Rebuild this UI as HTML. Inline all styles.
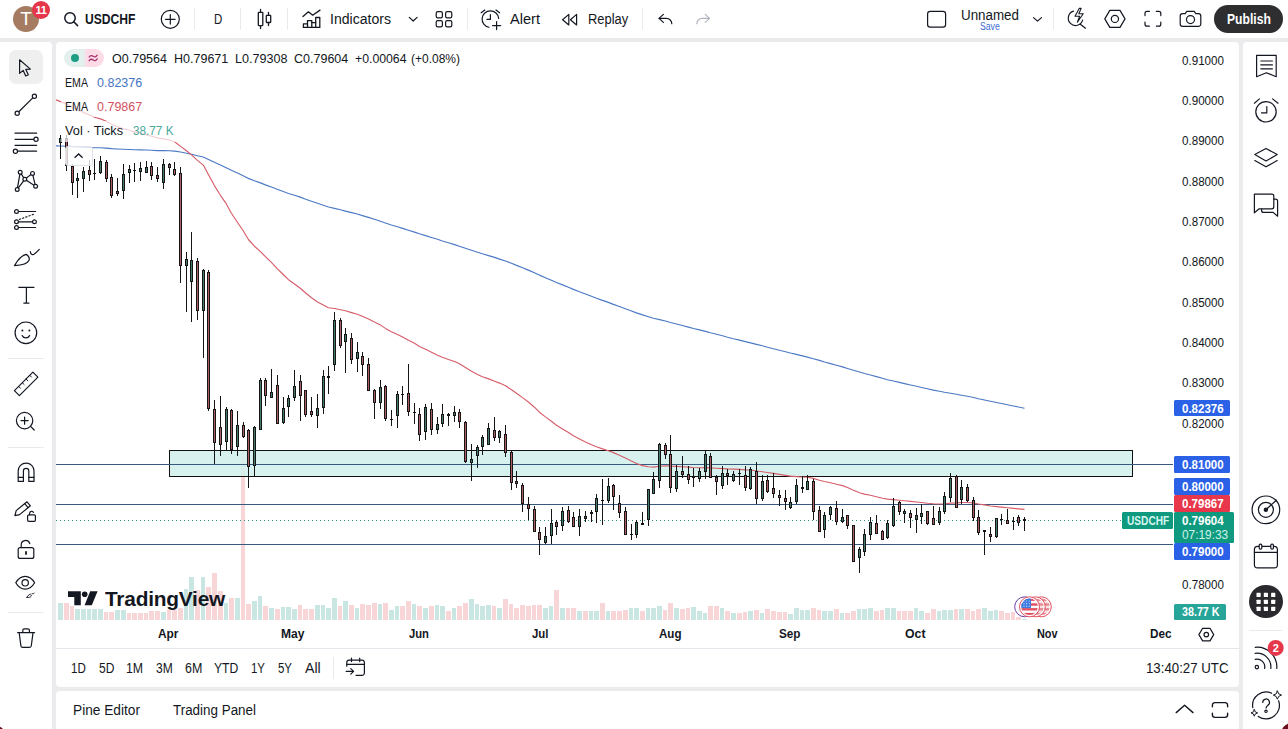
<!DOCTYPE html>
<html><head><meta charset="utf-8"><title>USDCHF</title>
<style>
*{box-sizing:border-box;margin:0;padding:0}
html,body{width:1288px;height:729px;overflow:hidden}
body{background:#ebebed;font-family:"Liberation Sans",sans-serif;color:#131722;position:relative}
.p{position:absolute;background:#fff}
.a{position:absolute}
.t{position:absolute;white-space:nowrap;line-height:1}
#top{left:0;top:0;width:1288px;height:38px}
#left{left:0;top:42px;width:52px;height:687px;border-top-right-radius:4px}
#chart{left:56px;top:42px;width:1183px;height:645px;border-radius:4px}
#bottom{left:56px;top:691px;width:1183px;height:38px;border-radius:4px 4px 0 0}
#right{left:1243px;top:42px;width:45px;height:687px;border-top-left-radius:4px}
svg{position:absolute;left:0;top:0;overflow:visible}
.sep{position:absolute;background:#e9eaee}
.ic{fill:none;stroke:#131722;stroke-width:1.2;stroke-linecap:round;stroke-linejoin:round}
.pl{position:absolute;left:1174px;width:56px;height:16px;color:#fff;font-size:12px;line-height:16px;padding-left:7px;white-space:nowrap}
.ax{position:absolute;left:1181px;font-size:12px;line-height:14px;white-space:nowrap}
.mo{position:absolute;top:626px;font-size:12px;font-weight:bold;line-height:14px;transform:translateX(-50%);white-space:nowrap}
</style></head><body>
<div class="p" id="top"></div>
<div class="p" id="left"></div>
<div class="p" id="chart"></div>
<div class="p" id="bottom"></div>
<div class="p" id="right"></div>

<!-- chart drawing layer (page coordinates) -->
<svg width="1288" height="729" viewBox="0 0 1288 729" shape-rendering="crispEdges">
<rect x="58" y="602.6" width="5" height="17.4" fill="#c9e6e2"/>
<rect x="64" y="602.6" width="5" height="17.4" fill="#f8d5d6"/>
<rect x="70" y="605.6" width="4" height="14.4" fill="#f8d5d6"/>
<rect x="75" y="608.8" width="5" height="11.2" fill="#c9e6e2"/>
<rect x="81" y="608.8" width="5" height="11.2" fill="#c9e6e2"/>
<rect x="87" y="609.0" width="4" height="11.0" fill="#c9e6e2"/>
<rect x="92" y="609.0" width="5" height="11.0" fill="#c9e6e2"/>
<rect x="98" y="609.0" width="5" height="11.0" fill="#c9e6e2"/>
<rect x="104" y="612.0" width="4" height="8.0" fill="#f8d5d6"/>
<rect x="109" y="612.0" width="5" height="8.0" fill="#f8d5d6"/>
<rect x="115" y="610.0" width="5" height="10.0" fill="#c9e6e2"/>
<rect x="121" y="610.0" width="5" height="10.0" fill="#c9e6e2"/>
<rect x="127" y="612.5" width="4" height="7.5" fill="#f8d5d6"/>
<rect x="132" y="612.5" width="5" height="7.5" fill="#f8d5d6"/>
<rect x="138" y="612.5" width="5" height="7.5" fill="#f8d5d6"/>
<rect x="144" y="612.5" width="4" height="7.5" fill="#f8d5d6"/>
<rect x="149" y="611.3" width="5" height="8.7" fill="#f8d5d6"/>
<rect x="155" y="611.3" width="5" height="8.7" fill="#f8d5d6"/>
<rect x="161" y="611.8" width="5" height="8.2" fill="#c9e6e2"/>
<rect x="167" y="610.0" width="4" height="10.0" fill="#f8d5d6"/>
<rect x="172" y="610.0" width="5" height="10.0" fill="#f8d5d6"/>
<rect x="178" y="608.0" width="5" height="12.0" fill="#f8d5d6"/>
<rect x="184" y="589.0" width="4" height="31.0" fill="#c9e6e2"/>
<rect x="189" y="577.3" width="5" height="42.7" fill="#c9e6e2"/>
<rect x="195" y="590.0" width="5" height="30.0" fill="#f8d5d6"/>
<rect x="201" y="577.3" width="4" height="42.7" fill="#c9e6e2"/>
<rect x="206" y="586.5" width="5" height="33.5" fill="#f8d5d6"/>
<rect x="212" y="573.3" width="5" height="46.7" fill="#f8d5d6"/>
<rect x="218" y="591.4" width="5" height="28.6" fill="#f8d5d6"/>
<rect x="224" y="602.6" width="4" height="17.4" fill="#c9e6e2"/>
<rect x="229" y="597.6" width="5" height="22.4" fill="#f8d5d6"/>
<rect x="235" y="598.1" width="5" height="21.9" fill="#c9e6e2"/>
<rect x="241" y="452.0" width="4" height="168.0" fill="#f8d5d6"/>
<rect x="246" y="604.0" width="5" height="16.0" fill="#f8d5d6"/>
<rect x="252" y="601.4" width="5" height="18.6" fill="#c9e6e2"/>
<rect x="258" y="596.4" width="4" height="23.6" fill="#c9e6e2"/>
<rect x="263" y="606.3" width="5" height="13.7" fill="#f8d5d6"/>
<rect x="269" y="607.6" width="5" height="12.4" fill="#c9e6e2"/>
<rect x="275" y="609.0" width="5" height="11.0" fill="#f8d5d6"/>
<rect x="281" y="607.0" width="4" height="13.0" fill="#c9e6e2"/>
<rect x="286" y="607.0" width="5" height="13.0" fill="#c9e6e2"/>
<rect x="292" y="609.0" width="5" height="11.0" fill="#c9e6e2"/>
<rect x="298" y="604.6" width="4" height="15.4" fill="#f8d5d6"/>
<rect x="303" y="609.3" width="5" height="10.7" fill="#f8d5d6"/>
<rect x="309" y="609.3" width="5" height="10.7" fill="#f8d5d6"/>
<rect x="315" y="605.0" width="5" height="15.0" fill="#c9e6e2"/>
<rect x="321" y="605.0" width="4" height="15.0" fill="#c9e6e2"/>
<rect x="326" y="608.3" width="5" height="11.7" fill="#c9e6e2"/>
<rect x="332" y="597.6" width="5" height="22.4" fill="#c9e6e2"/>
<rect x="338" y="605.6" width="4" height="14.4" fill="#f8d5d6"/>
<rect x="343" y="601.4" width="5" height="18.6" fill="#c9e6e2"/>
<rect x="349" y="604.6" width="5" height="15.4" fill="#f8d5d6"/>
<rect x="355" y="608.3" width="4" height="11.7" fill="#c9e6e2"/>
<rect x="360" y="604.0" width="5" height="16.0" fill="#f8d5d6"/>
<rect x="366" y="605.0" width="5" height="15.0" fill="#f8d5d6"/>
<rect x="372" y="603.0" width="5" height="17.0" fill="#f8d5d6"/>
<rect x="378" y="604.0" width="4" height="16.0" fill="#c9e6e2"/>
<rect x="383" y="602.6" width="5" height="17.4" fill="#f8d5d6"/>
<rect x="389" y="609.6" width="5" height="10.4" fill="#c9e6e2"/>
<rect x="395" y="605.6" width="4" height="14.4" fill="#c9e6e2"/>
<rect x="400" y="605.6" width="5" height="14.4" fill="#f8d5d6"/>
<rect x="406" y="601.4" width="5" height="18.6" fill="#f8d5d6"/>
<rect x="412" y="604.0" width="4" height="16.0" fill="#c9e6e2"/>
<rect x="417" y="606.3" width="5" height="13.7" fill="#f8d5d6"/>
<rect x="423" y="607.6" width="5" height="12.4" fill="#c9e6e2"/>
<rect x="429" y="606.3" width="5" height="13.7" fill="#f8d5d6"/>
<rect x="435" y="604.6" width="4" height="15.4" fill="#c9e6e2"/>
<rect x="440" y="606.3" width="5" height="13.7" fill="#c9e6e2"/>
<rect x="446" y="611.3" width="5" height="8.7" fill="#f8d5d6"/>
<rect x="452" y="607.6" width="4" height="12.4" fill="#c9e6e2"/>
<rect x="457" y="606.3" width="5" height="13.7" fill="#f8d5d6"/>
<rect x="463" y="602.6" width="5" height="17.4" fill="#f8d5d6"/>
<rect x="469" y="599.4" width="5" height="20.6" fill="#c9e6e2"/>
<rect x="475" y="604.0" width="4" height="16.0" fill="#c9e6e2"/>
<rect x="480" y="605.6" width="5" height="14.4" fill="#c9e6e2"/>
<rect x="486" y="604.6" width="5" height="15.4" fill="#c9e6e2"/>
<rect x="492" y="606.3" width="4" height="13.7" fill="#f8d5d6"/>
<rect x="497" y="608.3" width="5" height="11.7" fill="#c9e6e2"/>
<rect x="503" y="599.4" width="5" height="20.6" fill="#f8d5d6"/>
<rect x="509" y="604.0" width="4" height="16.0" fill="#f8d5d6"/>
<rect x="514" y="608.0" width="5" height="12.0" fill="#f8d5d6"/>
<rect x="520" y="604.6" width="5" height="15.4" fill="#f8d5d6"/>
<rect x="526" y="605.6" width="5" height="14.4" fill="#f8d5d6"/>
<rect x="532" y="604.6" width="4" height="15.4" fill="#f8d5d6"/>
<rect x="537" y="604.6" width="5" height="15.4" fill="#f8d5d6"/>
<rect x="543" y="607.6" width="5" height="12.4" fill="#c9e6e2"/>
<rect x="549" y="605.6" width="4" height="14.4" fill="#c9e6e2"/>
<rect x="554" y="590.2" width="5" height="29.8" fill="#f8d5d6"/>
<rect x="560" y="608.3" width="5" height="11.7" fill="#c9e6e2"/>
<rect x="566" y="608.3" width="4" height="11.7" fill="#f8d5d6"/>
<rect x="571" y="608.3" width="5" height="11.7" fill="#f8d5d6"/>
<rect x="577" y="611.3" width="5" height="8.7" fill="#c9e6e2"/>
<rect x="583" y="611.3" width="5" height="8.7" fill="#f8d5d6"/>
<rect x="589" y="611.3" width="4" height="8.7" fill="#c9e6e2"/>
<rect x="594" y="610.6" width="5" height="9.4" fill="#c9e6e2"/>
<rect x="600" y="603.4" width="5" height="16.6" fill="#f8d5d6"/>
<rect x="606" y="610.6" width="4" height="9.4" fill="#c9e6e2"/>
<rect x="611" y="611.3" width="5" height="8.7" fill="#f8d5d6"/>
<rect x="617" y="611.3" width="5" height="8.7" fill="#f8d5d6"/>
<rect x="623" y="610.0" width="5" height="10.0" fill="#f8d5d6"/>
<rect x="629" y="607.6" width="4" height="12.4" fill="#c9e6e2"/>
<rect x="634" y="608.3" width="5" height="11.7" fill="#c9e6e2"/>
<rect x="640" y="610.6" width="5" height="9.4" fill="#f8d5d6"/>
<rect x="646" y="608.0" width="4" height="12.0" fill="#c9e6e2"/>
<rect x="651" y="607.6" width="5" height="12.4" fill="#c9e6e2"/>
<rect x="657" y="605.6" width="5" height="14.4" fill="#c9e6e2"/>
<rect x="663" y="609.6" width="4" height="10.4" fill="#f8d5d6"/>
<rect x="668" y="602.6" width="5" height="17.4" fill="#f8d5d6"/>
<rect x="674" y="608.3" width="5" height="11.7" fill="#c9e6e2"/>
<rect x="680" y="609.3" width="5" height="10.7" fill="#f8d5d6"/>
<rect x="686" y="608.3" width="4" height="11.7" fill="#f8d5d6"/>
<rect x="691" y="607.0" width="5" height="13.0" fill="#c9e6e2"/>
<rect x="697" y="611.3" width="5" height="8.7" fill="#c9e6e2"/>
<rect x="703" y="612.5" width="4" height="7.5" fill="#c9e6e2"/>
<rect x="708" y="606.3" width="5" height="13.7" fill="#f8d5d6"/>
<rect x="714" y="606.3" width="5" height="13.7" fill="#f8d5d6"/>
<rect x="720" y="607.6" width="4" height="12.4" fill="#c9e6e2"/>
<rect x="725" y="611.3" width="5" height="8.7" fill="#f8d5d6"/>
<rect x="731" y="612.5" width="5" height="7.5" fill="#c9e6e2"/>
<rect x="737" y="612.5" width="5" height="7.5" fill="#f8d5d6"/>
<rect x="743" y="611.8" width="4" height="8.2" fill="#f8d5d6"/>
<rect x="748" y="611.3" width="5" height="8.7" fill="#c9e6e2"/>
<rect x="754" y="609.6" width="5" height="10.4" fill="#f8d5d6"/>
<rect x="760" y="612.5" width="4" height="7.5" fill="#c9e6e2"/>
<rect x="765" y="608.8" width="5" height="11.2" fill="#f8d5d6"/>
<rect x="771" y="611.3" width="5" height="8.7" fill="#f8d5d6"/>
<rect x="777" y="611.8" width="5" height="8.2" fill="#f8d5d6"/>
<rect x="783" y="611.8" width="4" height="8.2" fill="#f8d5d6"/>
<rect x="788" y="613.8" width="5" height="6.2" fill="#c9e6e2"/>
<rect x="794" y="607.6" width="5" height="12.4" fill="#c9e6e2"/>
<rect x="800" y="610.0" width="4" height="10.0" fill="#c9e6e2"/>
<rect x="805" y="610.0" width="5" height="10.0" fill="#c9e6e2"/>
<rect x="811" y="608.3" width="5" height="11.7" fill="#f8d5d6"/>
<rect x="817" y="610.0" width="4" height="10.0" fill="#f8d5d6"/>
<rect x="822" y="610.6" width="5" height="9.4" fill="#c9e6e2"/>
<rect x="828" y="610.6" width="5" height="9.4" fill="#c9e6e2"/>
<rect x="834" y="609.3" width="5" height="10.7" fill="#f8d5d6"/>
<rect x="840" y="612.5" width="4" height="7.5" fill="#c9e6e2"/>
<rect x="845" y="613.0" width="5" height="7.0" fill="#f8d5d6"/>
<rect x="851" y="610.8" width="5" height="9.2" fill="#f8d5d6"/>
<rect x="857" y="608.8" width="4" height="11.2" fill="#c9e6e2"/>
<rect x="862" y="608.8" width="5" height="11.2" fill="#c9e6e2"/>
<rect x="868" y="608.3" width="5" height="11.7" fill="#c9e6e2"/>
<rect x="874" y="611.3" width="5" height="8.7" fill="#f8d5d6"/>
<rect x="880" y="609.6" width="4" height="10.4" fill="#f8d5d6"/>
<rect x="885" y="608.3" width="5" height="11.7" fill="#c9e6e2"/>
<rect x="891" y="608.3" width="5" height="11.7" fill="#c9e6e2"/>
<rect x="897" y="610.8" width="4" height="9.2" fill="#f8d5d6"/>
<rect x="902" y="611.3" width="5" height="8.7" fill="#f8d5d6"/>
<rect x="908" y="610.6" width="5" height="9.4" fill="#f8d5d6"/>
<rect x="914" y="607.6" width="4" height="12.4" fill="#c9e6e2"/>
<rect x="919" y="611.3" width="5" height="8.7" fill="#c9e6e2"/>
<rect x="925" y="613.0" width="5" height="7.0" fill="#f8d5d6"/>
<rect x="931" y="608.8" width="5" height="11.2" fill="#f8d5d6"/>
<rect x="937" y="610.6" width="4" height="9.4" fill="#c9e6e2"/>
<rect x="942" y="609.6" width="5" height="10.4" fill="#c9e6e2"/>
<rect x="948" y="610.0" width="5" height="10.0" fill="#c9e6e2"/>
<rect x="954" y="609.3" width="4" height="10.7" fill="#f8d5d6"/>
<rect x="959" y="609.3" width="5" height="10.7" fill="#c9e6e2"/>
<rect x="965" y="609.3" width="5" height="10.7" fill="#f8d5d6"/>
<rect x="971" y="611.3" width="4" height="8.7" fill="#f8d5d6"/>
<rect x="976" y="609.3" width="5" height="10.7" fill="#f8d5d6"/>
<rect x="982" y="607.6" width="5" height="12.4" fill="#c9e6e2"/>
<rect x="988" y="611.4" width="5" height="8.6" fill="#c9e6e2"/>
<rect x="994" y="609.7" width="4" height="10.3" fill="#c9e6e2"/>
<rect x="999" y="610.5" width="5" height="9.5" fill="#f8d5d6"/>
<rect x="1005" y="613.4" width="5" height="6.6" fill="#f8d5d6"/>
<rect x="1011" y="611.8" width="4" height="8.2" fill="#f8d5d6"/>
<rect x="1016" y="617.1" width="5" height="2.9" fill="#f8d5d6"/>
<rect x="1022" y="619.0" width="5" height="1.0" fill="#c9e6e2"/>
<rect x="169.5" y="450.5" width="963" height="26" fill="#d3efec" fill-opacity="0.9" stroke="#111" stroke-width="1"/>
<rect x="56" y="464" width="1117" height="1" fill="#37597f"/>
<rect x="56" y="504" width="1117" height="1" fill="#37597f"/>
<rect x="56" y="544" width="1117" height="1" fill="#37597f"/>
<line x1="56" y1="520.5" x2="1174" y2="520.5" stroke="#2a8f80" stroke-width="1" stroke-dasharray="1 3"/>
<polyline points="56.0,145.9 60.6,146.0 66.6,146.2 72.4,146.6 77.5,146.9 83.5,147.1 89.3,147.4 94.5,147.7 100.5,147.8 106.3,148.1 111.5,148.6 117.5,149.0 123.5,149.3 129.4,149.5 134.5,149.7 140.6,149.9 146.4,150.0 151.5,150.3 157.5,150.6 163.5,150.5 169.4,150.8 174.6,151.1 180.6,152.0 186.5,153.2 191.5,154.3 197.4,155.7 203.3,157.0 208.5,159.5 214.4,162.3 220.4,165.1 226.2,167.7 231.4,170.3 237.4,173.0 243.2,175.7 248.4,178.4 254.4,180.8 260.5,182.9 265.4,184.9 271.4,187.0 277.2,189.3 283.2,191.5 288.5,193.5 294.5,195.3 300.3,197.1 305.7,199.2 311.5,201.3 317.5,203.3 323.3,205.2 328.5,207.0 334.5,208.4 340.4,209.8 345.4,211.1 351.6,212.6 357.3,214.0 362.4,215.6 368.5,217.4 374.4,219.3 380.4,221.2 385.4,223.0 391.4,225.0 397.5,226.8 402.6,228.4 408.5,230.2 414.5,232.1 419.4,233.8 425.5,235.6 431.5,237.5 437.5,239.3 442.4,241.0 448.5,242.8 454.6,244.6 459.4,246.3 465.4,248.3 471.5,250.3 477.5,252.2 482.4,253.8 488.6,255.6 494.6,257.4 499.6,259.1 505.5,261.0 511.5,263.3 516.5,265.4 522.5,267.7 528.4,270.1 534.4,272.7 539.4,275.1 545.4,277.7 551.4,280.2 556.5,282.5 562.5,284.9 568.5,287.3 573.4,289.4 579.5,291.8 585.5,294.0 591.5,296.3 596.4,298.2 602.5,300.4 608.4,302.4 613.4,304.4 619.4,306.5 625.4,308.8 631.4,311.0 636.5,312.9 642.5,314.9 648.5,316.7 653.4,318.2 659.5,319.6 665.4,321.0 670.5,322.5 676.4,324.0 682.4,325.5 688.4,327.1 693.5,328.5 699.4,329.9 705.5,331.4 710.5,332.8 716.4,334.3 722.5,335.8 727.5,337.2 733.4,338.7 739.5,340.1 745.4,341.6 750.5,342.9 756.5,344.4 762.4,345.8 767.5,347.2 773.5,348.7 779.4,350.2 785.5,351.7 790.4,353.0 796.4,354.4 802.4,355.9 807.4,357.1 813.4,358.7 819.4,360.4 824.5,362.0 830.5,363.6 836.5,365.3 842.5,366.9 847.5,368.5 853.5,370.3 859.5,372.0 864.6,373.5 870.4,375.0 876.4,376.6 882.5,378.3 887.4,379.7 893.4,381.0 899.4,382.4 904.5,383.6 910.6,385.0 916.5,386.3 921.5,387.5 927.4,388.8 933.3,390.1 939.5,391.2 944.5,392.2 950.5,393.2 956.4,394.3 961.5,395.2 967.4,396.3 973.6,397.5 978.5,398.7 984.5,400.0 990.4,401.2 996.6,402.5 1001.5,403.5 1007.4,404.7 1013.5,406.0 1018.4,407.0 1024.5,408.2" fill="none" stroke="#4b79c5" stroke-width="1.15" stroke-linejoin="round" shape-rendering="geometricPrecision"/>
<polyline points="56.0,99.9 60.6,101.6 66.6,104.1 72.4,107.2 77.5,110.0 83.5,112.4 89.3,114.9 94.5,117.2 100.5,118.9 106.3,121.2 111.5,124.2 117.5,126.9 123.5,128.8 129.4,130.3 134.5,131.9 140.6,133.3 146.4,134.6 151.5,136.2 157.5,137.9 163.5,138.9 169.4,140.0 174.6,141.7 180.6,146.4 186.5,150.8 191.5,154.9 197.4,160.4 203.3,165.1 208.5,174.7 214.4,185.6 220.4,195.3 226.2,203.7 231.4,213.3 237.4,222.2 243.2,230.8 248.4,239.5 254.4,246.2 260.5,251.6 265.4,256.7 271.4,262.4 277.2,268.6 283.2,274.5 288.5,279.7 294.5,284.0 300.3,288.2 305.7,293.0 311.5,297.7 317.5,302.0 323.3,305.1 328.5,307.8 334.5,308.5 340.4,309.8 345.4,310.8 351.6,312.6 357.3,314.2 362.4,316.3 368.5,319.1 374.4,322.1 380.4,324.9 385.4,328.4 391.4,331.8 397.5,334.5 402.6,337.0 408.5,340.2 414.5,343.3 419.4,346.4 425.5,349.2 431.5,352.3 437.5,355.3 442.4,357.3 448.5,359.5 454.6,361.5 459.4,363.7 465.4,367.5 471.5,371.2 477.5,374.5 482.4,376.7 488.6,378.9 494.6,381.2 499.6,383.1 505.5,385.8 511.5,389.7 516.5,393.3 522.5,397.6 528.4,402.0 534.4,407.2 539.4,412.2 545.4,416.9 551.4,421.2 556.5,425.3 562.5,428.9 568.5,432.5 573.4,435.8 579.5,439.0 585.5,442.1 591.5,444.8 596.4,446.8 602.5,448.9 608.4,450.7 613.4,452.6 619.4,455.2 625.4,458.1 631.4,461.1 636.5,463.5 642.5,465.6 648.5,466.7 653.4,467.1 659.5,466.3 665.4,465.7 670.5,466.1 676.4,466.4 682.4,466.7 688.4,467.1 693.5,467.5 699.4,467.7 705.5,467.6 710.5,467.9 716.4,468.3 722.5,468.6 727.5,468.9 733.4,469.1 739.5,469.4 745.4,469.9 750.5,470.0 756.5,471.0 762.4,471.7 767.5,472.5 773.5,473.4 779.4,474.4 785.5,475.4 790.4,476.1 796.4,476.6 802.4,477.0 807.4,477.3 813.4,478.4 819.4,480.2 824.5,481.5 830.5,482.7 836.5,484.2 842.5,485.6 847.5,487.5 853.5,490.3 859.5,492.7 864.6,494.1 870.4,495.3 876.4,496.8 882.5,498.3 887.4,499.1 893.4,499.6 899.4,500.2 904.5,500.7 910.6,501.4 916.5,502.0 921.5,502.5 927.4,503.3 933.3,503.8 939.5,504.0 944.5,503.9 950.5,503.1 956.4,502.9 961.5,502.5 967.4,502.5 973.6,503.0 978.5,504.0 984.5,504.9 990.4,506.0 996.6,506.6 1001.5,507.1 1007.4,507.8 1013.5,508.4 1018.4,508.9 1024.5,509.4" fill="none" stroke="#d65d6a" stroke-width="1.15" stroke-linejoin="round" shape-rendering="geometricPrecision"/>
<rect x="60" y="135" width="1" height="24" fill="#151515"/>
<rect x="59" y="138" width="3" height="5" fill="#151515"/>
<rect x="60" y="139" width="1" height="3" fill="#437a6e"/>
<rect x="66" y="135" width="1" height="36" fill="#151515"/>
<rect x="65" y="138" width="3" height="28" fill="#151515"/>
<rect x="66" y="139" width="1" height="26" fill="#ab5d62"/>
<rect x="72" y="164" width="1" height="31" fill="#151515"/>
<rect x="71" y="166" width="3" height="17" fill="#151515"/>
<rect x="72" y="167" width="1" height="15" fill="#ab5d62"/>
<rect x="77" y="173" width="1" height="25" fill="#151515"/>
<rect x="76" y="178" width="3" height="3" fill="#151515"/>
<rect x="77" y="179" width="1" height="1" fill="#437a6e"/>
<rect x="83" y="167" width="1" height="25" fill="#151515"/>
<rect x="82" y="171" width="3" height="8" fill="#151515"/>
<rect x="83" y="172" width="1" height="6" fill="#437a6e"/>
<rect x="89" y="160" width="1" height="21" fill="#151515"/>
<rect x="88" y="170" width="3" height="5" fill="#151515"/>
<rect x="89" y="171" width="1" height="3" fill="#ab5d62"/>
<rect x="94" y="159" width="1" height="21" fill="#151515"/>
<rect x="93" y="173" width="3" height="1" fill="#151515"/>
<rect x="100" y="156" width="1" height="18" fill="#151515"/>
<rect x="99" y="161" width="3" height="12" fill="#151515"/>
<rect x="100" y="162" width="1" height="10" fill="#437a6e"/>
<rect x="106" y="160" width="1" height="22" fill="#151515"/>
<rect x="105" y="162" width="3" height="17" fill="#151515"/>
<rect x="106" y="163" width="1" height="15" fill="#ab5d62"/>
<rect x="111" y="174" width="1" height="24" fill="#151515"/>
<rect x="110" y="177" width="3" height="19" fill="#151515"/>
<rect x="111" y="178" width="1" height="17" fill="#ab5d62"/>
<rect x="117" y="178" width="1" height="18" fill="#151515"/>
<rect x="116" y="191" width="3" height="3" fill="#151515"/>
<rect x="117" y="192" width="1" height="1" fill="#ab5d62"/>
<rect x="123" y="164" width="1" height="35" fill="#151515"/>
<rect x="122" y="174" width="3" height="17" fill="#151515"/>
<rect x="123" y="175" width="1" height="15" fill="#437a6e"/>
<rect x="129" y="165" width="1" height="18" fill="#151515"/>
<rect x="128" y="169" width="3" height="4" fill="#151515"/>
<rect x="129" y="170" width="1" height="2" fill="#437a6e"/>
<rect x="134" y="163" width="1" height="19" fill="#151515"/>
<rect x="133" y="170" width="3" height="1" fill="#151515"/>
<rect x="140" y="162" width="1" height="19" fill="#151515"/>
<rect x="139" y="168" width="3" height="4" fill="#151515"/>
<rect x="140" y="169" width="1" height="2" fill="#437a6e"/>
<rect x="146" y="161" width="1" height="12" fill="#151515"/>
<rect x="145" y="167" width="3" height="6" fill="#151515"/>
<rect x="146" y="168" width="1" height="4" fill="#437a6e"/>
<rect x="151" y="162" width="1" height="18" fill="#151515"/>
<rect x="150" y="166" width="3" height="10" fill="#151515"/>
<rect x="151" y="167" width="1" height="8" fill="#ab5d62"/>
<rect x="157" y="167" width="1" height="15" fill="#151515"/>
<rect x="156" y="175" width="3" height="4" fill="#151515"/>
<rect x="157" y="176" width="1" height="2" fill="#ab5d62"/>
<rect x="163" y="159" width="1" height="30" fill="#151515"/>
<rect x="162" y="164" width="3" height="19" fill="#151515"/>
<rect x="163" y="165" width="1" height="17" fill="#437a6e"/>
<rect x="169" y="163" width="1" height="12" fill="#151515"/>
<rect x="168" y="164" width="3" height="4" fill="#151515"/>
<rect x="169" y="165" width="1" height="2" fill="#ab5d62"/>
<rect x="174" y="162" width="1" height="14" fill="#151515"/>
<rect x="173" y="169" width="3" height="6" fill="#151515"/>
<rect x="174" y="170" width="1" height="4" fill="#ab5d62"/>
<rect x="180" y="167" width="1" height="116" fill="#151515"/>
<rect x="179" y="173" width="3" height="93" fill="#151515"/>
<rect x="180" y="174" width="1" height="91" fill="#ab5d62"/>
<rect x="186" y="252" width="1" height="60" fill="#151515"/>
<rect x="185" y="259" width="3" height="7" fill="#151515"/>
<rect x="186" y="260" width="1" height="5" fill="#437a6e"/>
<rect x="191" y="232" width="1" height="90" fill="#151515"/>
<rect x="190" y="260" width="3" height="22" fill="#151515"/>
<rect x="191" y="261" width="1" height="20" fill="#437a6e"/>
<rect x="197" y="258" width="1" height="62" fill="#151515"/>
<rect x="196" y="261" width="3" height="50" fill="#151515"/>
<rect x="197" y="262" width="1" height="48" fill="#ab5d62"/>
<rect x="203" y="269" width="1" height="89" fill="#151515"/>
<rect x="202" y="270" width="3" height="41" fill="#151515"/>
<rect x="203" y="271" width="1" height="39" fill="#437a6e"/>
<rect x="208" y="270" width="1" height="141" fill="#151515"/>
<rect x="207" y="272" width="3" height="137" fill="#151515"/>
<rect x="208" y="273" width="1" height="135" fill="#ab5d62"/>
<rect x="214" y="400" width="1" height="64" fill="#151515"/>
<rect x="213" y="409" width="3" height="34" fill="#151515"/>
<rect x="214" y="410" width="1" height="32" fill="#ab5d62"/>
<rect x="220" y="396" width="1" height="60" fill="#151515"/>
<rect x="219" y="427" width="3" height="18" fill="#151515"/>
<rect x="220" y="428" width="1" height="16" fill="#ab5d62"/>
<rect x="226" y="407" width="1" height="43" fill="#151515"/>
<rect x="225" y="409" width="3" height="33" fill="#151515"/>
<rect x="226" y="410" width="1" height="31" fill="#437a6e"/>
<rect x="231" y="409" width="1" height="45" fill="#151515"/>
<rect x="230" y="410" width="3" height="40" fill="#151515"/>
<rect x="231" y="411" width="1" height="38" fill="#ab5d62"/>
<rect x="237" y="411" width="1" height="45" fill="#151515"/>
<rect x="236" y="425" width="3" height="22" fill="#151515"/>
<rect x="237" y="426" width="1" height="20" fill="#437a6e"/>
<rect x="243" y="422" width="1" height="16" fill="#151515"/>
<rect x="242" y="425" width="3" height="12" fill="#151515"/>
<rect x="243" y="426" width="1" height="10" fill="#ab5d62"/>
<rect x="248" y="429" width="1" height="59" fill="#151515"/>
<rect x="247" y="430" width="3" height="37" fill="#151515"/>
<rect x="248" y="431" width="1" height="35" fill="#ab5d62"/>
<rect x="254" y="426" width="1" height="50" fill="#151515"/>
<rect x="253" y="427" width="3" height="39" fill="#151515"/>
<rect x="254" y="428" width="1" height="37" fill="#437a6e"/>
<rect x="260" y="378" width="1" height="52" fill="#151515"/>
<rect x="259" y="380" width="3" height="50" fill="#151515"/>
<rect x="260" y="381" width="1" height="48" fill="#437a6e"/>
<rect x="265" y="378" width="1" height="28" fill="#151515"/>
<rect x="264" y="380" width="3" height="16" fill="#151515"/>
<rect x="265" y="381" width="1" height="14" fill="#ab5d62"/>
<rect x="271" y="369" width="1" height="29" fill="#151515"/>
<rect x="270" y="392" width="3" height="6" fill="#151515"/>
<rect x="271" y="393" width="1" height="4" fill="#437a6e"/>
<rect x="277" y="375" width="1" height="49" fill="#151515"/>
<rect x="276" y="385" width="3" height="39" fill="#151515"/>
<rect x="277" y="386" width="1" height="37" fill="#ab5d62"/>
<rect x="283" y="397" width="1" height="27" fill="#151515"/>
<rect x="282" y="408" width="3" height="15" fill="#151515"/>
<rect x="283" y="409" width="1" height="13" fill="#437a6e"/>
<rect x="288" y="395" width="1" height="22" fill="#151515"/>
<rect x="287" y="398" width="3" height="9" fill="#151515"/>
<rect x="288" y="399" width="1" height="7" fill="#437a6e"/>
<rect x="294" y="370" width="1" height="31" fill="#151515"/>
<rect x="293" y="386" width="3" height="12" fill="#151515"/>
<rect x="294" y="387" width="1" height="10" fill="#437a6e"/>
<rect x="300" y="375" width="1" height="46" fill="#151515"/>
<rect x="299" y="381" width="3" height="15" fill="#151515"/>
<rect x="300" y="382" width="1" height="13" fill="#ab5d62"/>
<rect x="305" y="390" width="1" height="27" fill="#151515"/>
<rect x="304" y="390" width="3" height="25" fill="#151515"/>
<rect x="305" y="391" width="1" height="23" fill="#ab5d62"/>
<rect x="311" y="397" width="1" height="20" fill="#151515"/>
<rect x="310" y="411" width="3" height="4" fill="#151515"/>
<rect x="311" y="412" width="1" height="2" fill="#ab5d62"/>
<rect x="317" y="394" width="1" height="34" fill="#151515"/>
<rect x="316" y="408" width="3" height="8" fill="#151515"/>
<rect x="317" y="409" width="1" height="6" fill="#437a6e"/>
<rect x="323" y="370" width="1" height="44" fill="#151515"/>
<rect x="322" y="376" width="3" height="32" fill="#151515"/>
<rect x="323" y="377" width="1" height="30" fill="#437a6e"/>
<rect x="328" y="366" width="1" height="28" fill="#151515"/>
<rect x="327" y="376" width="3" height="2" fill="#151515"/>
<rect x="334" y="312" width="1" height="59" fill="#151515"/>
<rect x="333" y="320" width="3" height="45" fill="#151515"/>
<rect x="334" y="321" width="1" height="43" fill="#437a6e"/>
<rect x="340" y="318" width="1" height="30" fill="#151515"/>
<rect x="339" y="320" width="3" height="26" fill="#151515"/>
<rect x="340" y="321" width="1" height="24" fill="#ab5d62"/>
<rect x="345" y="328" width="1" height="45" fill="#151515"/>
<rect x="344" y="334" width="3" height="8" fill="#151515"/>
<rect x="345" y="335" width="1" height="6" fill="#437a6e"/>
<rect x="351" y="333" width="1" height="31" fill="#151515"/>
<rect x="350" y="338" width="3" height="22" fill="#151515"/>
<rect x="351" y="339" width="1" height="20" fill="#ab5d62"/>
<rect x="357" y="342" width="1" height="30" fill="#151515"/>
<rect x="356" y="352" width="3" height="7" fill="#151515"/>
<rect x="357" y="353" width="1" height="5" fill="#437a6e"/>
<rect x="362" y="352" width="1" height="24" fill="#151515"/>
<rect x="361" y="356" width="3" height="9" fill="#151515"/>
<rect x="362" y="357" width="1" height="7" fill="#ab5d62"/>
<rect x="368" y="358" width="1" height="33" fill="#151515"/>
<rect x="367" y="364" width="3" height="27" fill="#151515"/>
<rect x="368" y="365" width="1" height="25" fill="#ab5d62"/>
<rect x="374" y="389" width="1" height="30" fill="#151515"/>
<rect x="373" y="390" width="3" height="13" fill="#151515"/>
<rect x="374" y="391" width="1" height="11" fill="#ab5d62"/>
<rect x="380" y="380" width="1" height="29" fill="#151515"/>
<rect x="379" y="387" width="3" height="16" fill="#151515"/>
<rect x="380" y="388" width="1" height="14" fill="#437a6e"/>
<rect x="385" y="385" width="1" height="36" fill="#151515"/>
<rect x="384" y="386" width="3" height="33" fill="#151515"/>
<rect x="385" y="387" width="1" height="31" fill="#ab5d62"/>
<rect x="391" y="410" width="1" height="16" fill="#151515"/>
<rect x="390" y="419" width="3" height="1" fill="#151515"/>
<rect x="397" y="391" width="1" height="37" fill="#151515"/>
<rect x="396" y="394" width="3" height="22" fill="#151515"/>
<rect x="397" y="395" width="1" height="20" fill="#437a6e"/>
<rect x="402" y="386" width="1" height="19" fill="#151515"/>
<rect x="401" y="394" width="3" height="1" fill="#151515"/>
<rect x="408" y="364" width="1" height="52" fill="#151515"/>
<rect x="407" y="393" width="3" height="19" fill="#151515"/>
<rect x="408" y="394" width="1" height="17" fill="#ab5d62"/>
<rect x="414" y="403" width="1" height="21" fill="#151515"/>
<rect x="413" y="412" width="3" height="1" fill="#151515"/>
<rect x="419" y="408" width="1" height="33" fill="#151515"/>
<rect x="418" y="414" width="3" height="21" fill="#151515"/>
<rect x="419" y="415" width="1" height="19" fill="#ab5d62"/>
<rect x="425" y="404" width="1" height="36" fill="#151515"/>
<rect x="424" y="407" width="3" height="25" fill="#151515"/>
<rect x="425" y="408" width="1" height="23" fill="#437a6e"/>
<rect x="431" y="403" width="1" height="32" fill="#151515"/>
<rect x="430" y="409" width="3" height="21" fill="#151515"/>
<rect x="431" y="410" width="1" height="19" fill="#ab5d62"/>
<rect x="437" y="417" width="1" height="17" fill="#151515"/>
<rect x="436" y="424" width="3" height="6" fill="#151515"/>
<rect x="437" y="425" width="1" height="4" fill="#437a6e"/>
<rect x="442" y="404" width="1" height="23" fill="#151515"/>
<rect x="441" y="414" width="3" height="10" fill="#151515"/>
<rect x="442" y="415" width="1" height="8" fill="#437a6e"/>
<rect x="448" y="413" width="1" height="13" fill="#151515"/>
<rect x="447" y="414" width="3" height="2" fill="#151515"/>
<rect x="454" y="406" width="1" height="16" fill="#151515"/>
<rect x="453" y="412" width="3" height="4" fill="#151515"/>
<rect x="454" y="413" width="1" height="2" fill="#437a6e"/>
<rect x="459" y="409" width="1" height="19" fill="#151515"/>
<rect x="458" y="412" width="3" height="10" fill="#151515"/>
<rect x="459" y="413" width="1" height="8" fill="#ab5d62"/>
<rect x="465" y="421" width="1" height="42" fill="#151515"/>
<rect x="464" y="422" width="3" height="40" fill="#151515"/>
<rect x="465" y="423" width="1" height="38" fill="#ab5d62"/>
<rect x="471" y="444" width="1" height="37" fill="#151515"/>
<rect x="470" y="459" width="3" height="4" fill="#151515"/>
<rect x="471" y="460" width="1" height="2" fill="#437a6e"/>
<rect x="477" y="445" width="1" height="23" fill="#151515"/>
<rect x="476" y="447" width="3" height="9" fill="#151515"/>
<rect x="477" y="448" width="1" height="7" fill="#437a6e"/>
<rect x="482" y="435" width="1" height="20" fill="#151515"/>
<rect x="481" y="437" width="3" height="10" fill="#151515"/>
<rect x="482" y="438" width="1" height="8" fill="#437a6e"/>
<rect x="488" y="423" width="1" height="22" fill="#151515"/>
<rect x="487" y="428" width="3" height="17" fill="#151515"/>
<rect x="488" y="429" width="1" height="15" fill="#437a6e"/>
<rect x="494" y="417" width="1" height="24" fill="#151515"/>
<rect x="493" y="430" width="3" height="8" fill="#151515"/>
<rect x="494" y="431" width="1" height="6" fill="#ab5d62"/>
<rect x="499" y="430" width="1" height="13" fill="#151515"/>
<rect x="498" y="431" width="3" height="7" fill="#151515"/>
<rect x="499" y="432" width="1" height="5" fill="#437a6e"/>
<rect x="505" y="425" width="1" height="32" fill="#151515"/>
<rect x="504" y="434" width="3" height="19" fill="#151515"/>
<rect x="505" y="435" width="1" height="17" fill="#ab5d62"/>
<rect x="511" y="451" width="1" height="39" fill="#151515"/>
<rect x="510" y="452" width="3" height="31" fill="#151515"/>
<rect x="511" y="453" width="1" height="29" fill="#ab5d62"/>
<rect x="516" y="471" width="1" height="17" fill="#151515"/>
<rect x="515" y="481" width="3" height="3" fill="#151515"/>
<rect x="516" y="482" width="1" height="1" fill="#ab5d62"/>
<rect x="522" y="483" width="1" height="29" fill="#151515"/>
<rect x="521" y="485" width="3" height="19" fill="#151515"/>
<rect x="522" y="486" width="1" height="17" fill="#ab5d62"/>
<rect x="528" y="497" width="1" height="23" fill="#151515"/>
<rect x="527" y="504" width="3" height="5" fill="#151515"/>
<rect x="528" y="505" width="1" height="3" fill="#ab5d62"/>
<rect x="534" y="506" width="1" height="26" fill="#151515"/>
<rect x="533" y="509" width="3" height="23" fill="#151515"/>
<rect x="534" y="510" width="1" height="21" fill="#ab5d62"/>
<rect x="539" y="527" width="1" height="28" fill="#151515"/>
<rect x="538" y="532" width="3" height="8" fill="#151515"/>
<rect x="539" y="533" width="1" height="6" fill="#ab5d62"/>
<rect x="545" y="527" width="1" height="17" fill="#151515"/>
<rect x="544" y="536" width="3" height="7" fill="#151515"/>
<rect x="545" y="537" width="1" height="5" fill="#437a6e"/>
<rect x="551" y="509" width="1" height="35" fill="#151515"/>
<rect x="550" y="523" width="3" height="13" fill="#151515"/>
<rect x="551" y="524" width="1" height="11" fill="#437a6e"/>
<rect x="556" y="520" width="1" height="15" fill="#151515"/>
<rect x="555" y="522" width="3" height="5" fill="#151515"/>
<rect x="556" y="523" width="1" height="3" fill="#ab5d62"/>
<rect x="562" y="507" width="1" height="24" fill="#151515"/>
<rect x="561" y="511" width="3" height="15" fill="#151515"/>
<rect x="562" y="512" width="1" height="13" fill="#437a6e"/>
<rect x="568" y="506" width="1" height="17" fill="#151515"/>
<rect x="567" y="510" width="3" height="12" fill="#151515"/>
<rect x="568" y="511" width="1" height="10" fill="#ab5d62"/>
<rect x="573" y="512" width="1" height="15" fill="#151515"/>
<rect x="572" y="517" width="3" height="10" fill="#151515"/>
<rect x="573" y="518" width="1" height="8" fill="#ab5d62"/>
<rect x="579" y="509" width="1" height="27" fill="#151515"/>
<rect x="578" y="516" width="3" height="11" fill="#151515"/>
<rect x="579" y="517" width="1" height="9" fill="#437a6e"/>
<rect x="585" y="511" width="1" height="11" fill="#151515"/>
<rect x="584" y="516" width="3" height="3" fill="#151515"/>
<rect x="585" y="517" width="1" height="1" fill="#437a6e"/>
<rect x="591" y="510" width="1" height="12" fill="#151515"/>
<rect x="590" y="512" width="3" height="2" fill="#151515"/>
<rect x="596" y="494" width="1" height="29" fill="#151515"/>
<rect x="595" y="498" width="3" height="14" fill="#151515"/>
<rect x="596" y="499" width="1" height="12" fill="#437a6e"/>
<rect x="602" y="479" width="1" height="46" fill="#151515"/>
<rect x="601" y="500" width="3" height="1" fill="#151515"/>
<rect x="608" y="478" width="1" height="25" fill="#151515"/>
<rect x="607" y="486" width="3" height="15" fill="#151515"/>
<rect x="608" y="487" width="1" height="13" fill="#437a6e"/>
<rect x="613" y="484" width="1" height="26" fill="#151515"/>
<rect x="612" y="485" width="3" height="12" fill="#151515"/>
<rect x="613" y="486" width="1" height="10" fill="#ab5d62"/>
<rect x="619" y="495" width="1" height="23" fill="#151515"/>
<rect x="618" y="503" width="3" height="10" fill="#151515"/>
<rect x="619" y="504" width="1" height="8" fill="#ab5d62"/>
<rect x="625" y="507" width="1" height="28" fill="#151515"/>
<rect x="624" y="511" width="3" height="24" fill="#151515"/>
<rect x="625" y="512" width="1" height="22" fill="#ab5d62"/>
<rect x="631" y="524" width="1" height="16" fill="#151515"/>
<rect x="630" y="534" width="3" height="1" fill="#151515"/>
<rect x="636" y="520" width="1" height="18" fill="#151515"/>
<rect x="635" y="522" width="3" height="13" fill="#151515"/>
<rect x="636" y="523" width="1" height="11" fill="#437a6e"/>
<rect x="642" y="512" width="1" height="13" fill="#151515"/>
<rect x="641" y="523" width="3" height="2" fill="#151515"/>
<rect x="648" y="489" width="1" height="37" fill="#151515"/>
<rect x="647" y="489" width="3" height="31" fill="#151515"/>
<rect x="648" y="490" width="1" height="29" fill="#437a6e"/>
<rect x="653" y="472" width="1" height="22" fill="#151515"/>
<rect x="652" y="479" width="3" height="15" fill="#151515"/>
<rect x="653" y="480" width="1" height="13" fill="#437a6e"/>
<rect x="659" y="443" width="1" height="45" fill="#151515"/>
<rect x="658" y="444" width="3" height="37" fill="#151515"/>
<rect x="659" y="445" width="1" height="35" fill="#437a6e"/>
<rect x="665" y="443" width="1" height="16" fill="#151515"/>
<rect x="664" y="445" width="3" height="10" fill="#151515"/>
<rect x="665" y="446" width="1" height="8" fill="#ab5d62"/>
<rect x="670" y="435" width="1" height="58" fill="#151515"/>
<rect x="669" y="454" width="3" height="34" fill="#151515"/>
<rect x="670" y="455" width="1" height="32" fill="#ab5d62"/>
<rect x="676" y="465" width="1" height="27" fill="#151515"/>
<rect x="675" y="471" width="3" height="18" fill="#151515"/>
<rect x="676" y="472" width="1" height="16" fill="#437a6e"/>
<rect x="682" y="456" width="1" height="22" fill="#151515"/>
<rect x="681" y="471" width="3" height="4" fill="#151515"/>
<rect x="682" y="472" width="1" height="2" fill="#ab5d62"/>
<rect x="688" y="466" width="1" height="18" fill="#151515"/>
<rect x="687" y="474" width="3" height="6" fill="#151515"/>
<rect x="688" y="475" width="1" height="4" fill="#ab5d62"/>
<rect x="693" y="468" width="1" height="19" fill="#151515"/>
<rect x="692" y="477" width="3" height="1" fill="#151515"/>
<rect x="699" y="468" width="1" height="14" fill="#151515"/>
<rect x="698" y="471" width="3" height="8" fill="#151515"/>
<rect x="699" y="472" width="1" height="6" fill="#437a6e"/>
<rect x="705" y="451" width="1" height="28" fill="#151515"/>
<rect x="704" y="454" width="3" height="18" fill="#151515"/>
<rect x="705" y="455" width="1" height="16" fill="#437a6e"/>
<rect x="710" y="453" width="1" height="25" fill="#151515"/>
<rect x="709" y="456" width="3" height="22" fill="#151515"/>
<rect x="710" y="457" width="1" height="20" fill="#ab5d62"/>
<rect x="716" y="475" width="1" height="20" fill="#151515"/>
<rect x="715" y="477" width="3" height="5" fill="#151515"/>
<rect x="716" y="478" width="1" height="3" fill="#ab5d62"/>
<rect x="722" y="466" width="1" height="23" fill="#151515"/>
<rect x="721" y="473" width="3" height="13" fill="#151515"/>
<rect x="722" y="474" width="1" height="11" fill="#437a6e"/>
<rect x="727" y="469" width="1" height="16" fill="#151515"/>
<rect x="726" y="473" width="3" height="3" fill="#151515"/>
<rect x="727" y="474" width="1" height="1" fill="#ab5d62"/>
<rect x="733" y="471" width="1" height="11" fill="#151515"/>
<rect x="732" y="474" width="3" height="7" fill="#151515"/>
<rect x="733" y="475" width="1" height="5" fill="#437a6e"/>
<rect x="739" y="469" width="1" height="16" fill="#151515"/>
<rect x="738" y="473" width="3" height="1" fill="#151515"/>
<rect x="745" y="466" width="1" height="25" fill="#151515"/>
<rect x="744" y="475" width="3" height="13" fill="#151515"/>
<rect x="745" y="476" width="1" height="11" fill="#ab5d62"/>
<rect x="750" y="467" width="1" height="23" fill="#151515"/>
<rect x="749" y="469" width="3" height="20" fill="#151515"/>
<rect x="750" y="470" width="1" height="18" fill="#437a6e"/>
<rect x="756" y="462" width="1" height="42" fill="#151515"/>
<rect x="755" y="471" width="3" height="28" fill="#151515"/>
<rect x="756" y="472" width="1" height="26" fill="#ab5d62"/>
<rect x="762" y="475" width="1" height="26" fill="#151515"/>
<rect x="761" y="481" width="3" height="18" fill="#151515"/>
<rect x="762" y="482" width="1" height="16" fill="#437a6e"/>
<rect x="767" y="475" width="1" height="18" fill="#151515"/>
<rect x="766" y="480" width="3" height="12" fill="#151515"/>
<rect x="767" y="481" width="1" height="10" fill="#ab5d62"/>
<rect x="773" y="473" width="1" height="25" fill="#151515"/>
<rect x="772" y="488" width="3" height="6" fill="#151515"/>
<rect x="773" y="489" width="1" height="4" fill="#ab5d62"/>
<rect x="779" y="490" width="1" height="16" fill="#151515"/>
<rect x="778" y="495" width="3" height="3" fill="#151515"/>
<rect x="779" y="496" width="1" height="1" fill="#ab5d62"/>
<rect x="785" y="490" width="1" height="20" fill="#151515"/>
<rect x="784" y="498" width="3" height="4" fill="#151515"/>
<rect x="785" y="499" width="1" height="2" fill="#ab5d62"/>
<rect x="790" y="497" width="1" height="12" fill="#151515"/>
<rect x="789" y="502" width="3" height="6" fill="#151515"/>
<rect x="790" y="503" width="1" height="4" fill="#437a6e"/>
<rect x="796" y="479" width="1" height="25" fill="#151515"/>
<rect x="795" y="485" width="3" height="17" fill="#151515"/>
<rect x="796" y="486" width="1" height="15" fill="#437a6e"/>
<rect x="802" y="476" width="1" height="17" fill="#151515"/>
<rect x="801" y="487" width="3" height="2" fill="#151515"/>
<rect x="807" y="475" width="1" height="15" fill="#151515"/>
<rect x="806" y="481" width="3" height="9" fill="#151515"/>
<rect x="807" y="482" width="1" height="7" fill="#437a6e"/>
<rect x="813" y="479" width="1" height="41" fill="#151515"/>
<rect x="812" y="481" width="3" height="31" fill="#151515"/>
<rect x="813" y="482" width="1" height="29" fill="#ab5d62"/>
<rect x="819" y="506" width="1" height="26" fill="#151515"/>
<rect x="818" y="510" width="3" height="22" fill="#151515"/>
<rect x="819" y="511" width="1" height="20" fill="#ab5d62"/>
<rect x="824" y="512" width="1" height="26" fill="#151515"/>
<rect x="823" y="515" width="3" height="15" fill="#151515"/>
<rect x="824" y="516" width="1" height="13" fill="#437a6e"/>
<rect x="830" y="506" width="1" height="14" fill="#151515"/>
<rect x="829" y="507" width="3" height="8" fill="#151515"/>
<rect x="830" y="508" width="1" height="6" fill="#437a6e"/>
<rect x="836" y="501" width="1" height="24" fill="#151515"/>
<rect x="835" y="508" width="3" height="14" fill="#151515"/>
<rect x="836" y="509" width="1" height="12" fill="#ab5d62"/>
<rect x="842" y="509" width="1" height="14" fill="#151515"/>
<rect x="841" y="517" width="3" height="5" fill="#151515"/>
<rect x="842" y="518" width="1" height="3" fill="#437a6e"/>
<rect x="847" y="515" width="1" height="14" fill="#151515"/>
<rect x="846" y="515" width="3" height="11" fill="#151515"/>
<rect x="847" y="516" width="1" height="9" fill="#ab5d62"/>
<rect x="853" y="525" width="1" height="37" fill="#151515"/>
<rect x="852" y="525" width="3" height="37" fill="#151515"/>
<rect x="853" y="526" width="1" height="35" fill="#ab5d62"/>
<rect x="859" y="547" width="1" height="26" fill="#151515"/>
<rect x="858" y="549" width="3" height="9" fill="#151515"/>
<rect x="859" y="550" width="1" height="7" fill="#437a6e"/>
<rect x="864" y="529" width="1" height="27" fill="#151515"/>
<rect x="863" y="534" width="3" height="18" fill="#151515"/>
<rect x="864" y="535" width="1" height="16" fill="#437a6e"/>
<rect x="870" y="517" width="1" height="23" fill="#151515"/>
<rect x="869" y="522" width="3" height="13" fill="#151515"/>
<rect x="870" y="523" width="1" height="11" fill="#437a6e"/>
<rect x="876" y="515" width="1" height="19" fill="#151515"/>
<rect x="875" y="523" width="3" height="11" fill="#151515"/>
<rect x="876" y="524" width="1" height="9" fill="#ab5d62"/>
<rect x="882" y="530" width="1" height="10" fill="#151515"/>
<rect x="881" y="531" width="3" height="9" fill="#151515"/>
<rect x="882" y="532" width="1" height="7" fill="#ab5d62"/>
<rect x="887" y="520" width="1" height="19" fill="#151515"/>
<rect x="886" y="523" width="3" height="15" fill="#151515"/>
<rect x="887" y="524" width="1" height="13" fill="#437a6e"/>
<rect x="893" y="498" width="1" height="29" fill="#151515"/>
<rect x="892" y="506" width="3" height="20" fill="#151515"/>
<rect x="893" y="507" width="1" height="18" fill="#437a6e"/>
<rect x="899" y="501" width="1" height="14" fill="#151515"/>
<rect x="898" y="502" width="3" height="10" fill="#151515"/>
<rect x="899" y="503" width="1" height="8" fill="#ab5d62"/>
<rect x="904" y="509" width="1" height="14" fill="#151515"/>
<rect x="903" y="511" width="3" height="3" fill="#151515"/>
<rect x="904" y="512" width="1" height="1" fill="#437a6e"/>
<rect x="910" y="510" width="1" height="18" fill="#151515"/>
<rect x="909" y="513" width="3" height="5" fill="#151515"/>
<rect x="910" y="514" width="1" height="3" fill="#ab5d62"/>
<rect x="916" y="508" width="1" height="25" fill="#151515"/>
<rect x="915" y="515" width="3" height="5" fill="#151515"/>
<rect x="916" y="516" width="1" height="3" fill="#437a6e"/>
<rect x="921" y="504" width="1" height="20" fill="#151515"/>
<rect x="920" y="513" width="3" height="4" fill="#151515"/>
<rect x="921" y="514" width="1" height="2" fill="#437a6e"/>
<rect x="927" y="511" width="1" height="14" fill="#151515"/>
<rect x="926" y="511" width="3" height="13" fill="#151515"/>
<rect x="927" y="512" width="1" height="11" fill="#ab5d62"/>
<rect x="933" y="506" width="1" height="19" fill="#151515"/>
<rect x="932" y="518" width="3" height="7" fill="#151515"/>
<rect x="933" y="519" width="1" height="5" fill="#ab5d62"/>
<rect x="939" y="507" width="1" height="18" fill="#151515"/>
<rect x="938" y="511" width="3" height="12" fill="#151515"/>
<rect x="939" y="512" width="1" height="10" fill="#437a6e"/>
<rect x="944" y="492" width="1" height="22" fill="#151515"/>
<rect x="943" y="496" width="3" height="16" fill="#151515"/>
<rect x="944" y="497" width="1" height="14" fill="#437a6e"/>
<rect x="950" y="473" width="1" height="29" fill="#151515"/>
<rect x="949" y="478" width="3" height="20" fill="#151515"/>
<rect x="950" y="479" width="1" height="18" fill="#437a6e"/>
<rect x="956" y="475" width="1" height="33" fill="#151515"/>
<rect x="955" y="476" width="3" height="32" fill="#151515"/>
<rect x="956" y="477" width="1" height="30" fill="#ab5d62"/>
<rect x="961" y="480" width="1" height="24" fill="#151515"/>
<rect x="960" y="487" width="3" height="13" fill="#151515"/>
<rect x="961" y="488" width="1" height="11" fill="#437a6e"/>
<rect x="967" y="484" width="1" height="18" fill="#151515"/>
<rect x="966" y="487" width="3" height="14" fill="#151515"/>
<rect x="967" y="488" width="1" height="12" fill="#ab5d62"/>
<rect x="973" y="497" width="1" height="24" fill="#151515"/>
<rect x="972" y="500" width="3" height="18" fill="#151515"/>
<rect x="973" y="501" width="1" height="16" fill="#ab5d62"/>
<rect x="978" y="510" width="1" height="25" fill="#151515"/>
<rect x="977" y="517" width="3" height="16" fill="#151515"/>
<rect x="978" y="518" width="1" height="14" fill="#ab5d62"/>
<rect x="984" y="530" width="1" height="25" fill="#151515"/>
<rect x="983" y="530" width="3" height="2" fill="#151515"/>
<rect x="990" y="527" width="1" height="15" fill="#151515"/>
<rect x="989" y="534" width="3" height="3" fill="#151515"/>
<rect x="990" y="535" width="1" height="1" fill="#ab5d62"/>
<rect x="996" y="518" width="1" height="20" fill="#151515"/>
<rect x="995" y="518" width="3" height="19" fill="#151515"/>
<rect x="996" y="519" width="1" height="17" fill="#437a6e"/>
<rect x="1001" y="514" width="1" height="11" fill="#151515"/>
<rect x="1000" y="519" width="3" height="1" fill="#151515"/>
<rect x="1007" y="509" width="1" height="15" fill="#151515"/>
<rect x="1006" y="520" width="3" height="4" fill="#151515"/>
<rect x="1007" y="521" width="1" height="2" fill="#ab5d62"/>
<rect x="1013" y="517" width="1" height="13" fill="#151515"/>
<rect x="1012" y="521" width="3" height="1" fill="#151515"/>
<rect x="1018" y="515" width="1" height="11" fill="#151515"/>
<rect x="1017" y="517" width="3" height="6" fill="#151515"/>
<rect x="1018" y="518" width="1" height="4" fill="#ab5d62"/>
<rect x="1024" y="517" width="1" height="14" fill="#151515"/>
<rect x="1023" y="519" width="3" height="2" fill="#151515"/>
</svg>

<!-- ===== TOP TOOLBAR ===== -->
<div class="a" style="left:13px;top:6px;width:26px;height:26px;border-radius:50%;background:#a57c61"></div>
<div class="t" style="left:13px;top:9px;width:26px;text-align:center;color:#fff;font-size:19px">T</div>
<div class="a" style="left:32px;top:1px;width:18px;height:18px;border-radius:50%;background:#e5364a"></div>
<div class="t" style="left:32px;top:4.5px;width:18px;text-align:center;color:#fff;font-size:11px;font-weight:bold;letter-spacing:-0.3px">11</div>
<div class="t" id="sym" style="transform:scaleX(0.8638);transform-origin:0 50%;left:84.5px;top:12px;font-size:14px;font-weight:bold">USDCHF</div>
<div class="t" style="transform:scaleX(0.8198);transform-origin:0 50%;left:213.800px;top:12px;font-size:14px">D</div>
<div class="t" id="ind" style="transform:scaleX(1.0049);transform-origin:0 50%;left:329.5px;top:12px;font-size:14px">Indicators</div>
<div class="t" id="alr" style="transform:scaleX(1.0418);transform-origin:0 50%;left:509.5px;top:12px;font-size:14px">Alert</div>
<div class="t" id="rep" style="transform:scaleX(0.9222);transform-origin:0 50%;left:587.5px;top:12px;font-size:14px">Replay</div>
<div class="t" id="unn" style="transform:scaleX(0.9555);transform-origin:0 50%;left:960.5px;top:7.5px;font-size:14px">Unnamed</div>
<div class="t" id="sav" style="transform:scaleX(0.8642);transform-origin:0 50%;left:980px;top:22.300px;font-size:10px;color:#3a6bd6">Save</div>
<div class="a" style="left:1214px;top:5px;width:69px;height:27.800px;border-radius:14px;background:#2e2e30"></div>
<div class="t" id="pub" style="transform:scaleX(0.8663);transform-origin:0 50%;left:1227px;top:12px;font-size:14px;font-weight:bold;color:#fff">Publish</div>
<div class="sep" style="left:194px;top:8px;width:1px;height:22px"></div>
<div class="sep" style="left:240px;top:8px;width:1px;height:22px"></div>
<div class="sep" style="left:287px;top:8px;width:1px;height:22px"></div>
<div class="sep" style="left:467px;top:8px;width:1px;height:22px"></div>
<div class="sep" style="left:642px;top:8px;width:1px;height:22px"></div>
<div class="sep" style="left:1053px;top:8px;width:1px;height:22px"></div>
<svg width="1288" height="40" viewBox="0 0 1288 40" shape-rendering="geometricPrecision">
<g class="ic" style="stroke-width:1.5">
 <circle cx="70" cy="18" r="5.2"/><path d="M73.8 21.8 L77.6 25.6"/>
</g>
<g class="ic">
 <circle cx="170.3" cy="19.3" r="9"/><path d="M170.3 14.5v9.6M165.5 19.3h9.6"/>
 <!-- candles -->
 <rect x="258.300" y="12.300" width="4.500" height="13.300" rx="0.500" style="stroke-width:1.300"/><path d="M260.550 9.400v2.900M260.550 25.600v3" style="stroke-width:1.300"/>
 <rect x="266.300" y="15.400" width="4.400" height="7.100" rx="0.500" style="stroke-width:1.300"/><path d="M268.500 12.300v3.100M268.500 22.500v3.100" style="stroke-width:1.300"/>
 <!-- indicators -->
 <path d="M303 16.600L308.400 11.800L312.700 15.200L320 10.100" style="stroke-width:1.300"/>
 <path d="M303.400 27.400V23.900H307.500V20.600H311.800V22.700H315.700V17.500H319.800V27.400Z" style="stroke-width:1.300"/>
 <path d="M307.500 23.900V27.400M311.800 22.700V27.400M315.700 22.700V27.400" style="stroke-width:1.300"/>
 <path d="M409.3 17.4l3.9 3.6 3.9-3.6"/>
 <!-- grid -->
 <rect x="436.2" y="11.6" width="6.2" height="6.2" rx="1.6"/><rect x="445.6" y="11.6" width="6.2" height="6.2" rx="1.6"/>
 <rect x="436.2" y="20.6" width="6.2" height="6.2" rx="1.6"/><rect x="445.6" y="20.6" width="6.2" height="6.2" rx="1.6"/>
 <!-- alert -->
 <path d="M488.960 27.270A8.300 8.300 0 1 1 498.670 18.380"/><path d="M490.4 14.6v4.8h-3.4"/>
 <path d="M481.2 12.8 L484.8 10M496 10l3.6 2.8"/>
 <path d="M496.600 21.600v8M492.600 25.600h8"/>
 <!-- replay -->
 <path d="M568.8 14.4v10.6l-6.2-5.3z"/><path d="M576.6 14.4v10.6l-6.2-5.3z"/>
 <!-- undo -->
 <path d="M663.4 14.4l-4.4 4 4.4 4"/><path d="M659.2 18.4h7.3a5.3 5.3 0 0 1 5.3 5.3"/>
 <!-- layout square -->
 <rect x="927.6" y="11.4" width="18" height="15.8" rx="2.6"/>
 <path d="M1033.5 17.6l4 3.5 4-3.5"/>
 <!-- quick search -->
 <path d="M1073.5 11.2 A7.3 7.3 0 1 0 1082.6 20.2"/><path d="M1080.3 24.2l5.2 4"/>
 <path d="M1079.2 8.4l-4.2 7.8h4.6l-2.2 6 5.8-8.4h-4.4l2.4-5.4z" style="stroke-width:1.1"/>
 <!-- settings hex -->
 <path d="M1109.8 10.4h10.2l5 8.5-5 8.5h-10.2l-5-8.5z"/><circle cx="1114.9" cy="18.9" r="3.6"/>
 <!-- fullscreen -->
 <path d="M1145 15.6v-2.2a2 2 0 0 1 2-2h2.4M1156.4 11.4h2.4a2 2 0 0 1 2 2v2.2M1160.8 22v2.2a2 2 0 0 1-2 2h-2.4M1149.4 26.2h-2.4a2 2 0 0 1-2-2v-2.2"/>
 <!-- camera -->
 <path d="M1182.6 13.6h2.6l1.6-2.2h7.4l1.6 2.2h2.6a2.4 2.4 0 0 1 2.4 2.4v8a2.4 2.4 0 0 1-2.4 2.4h-15.8a2.4 2.4 0 0 1-2.4-2.4v-8a2.4 2.4 0 0 1 2.4-2.4z"/><circle cx="1190.5" cy="19.6" r="4"/>
</g>
<g class="ic" style="stroke:#b2b5be"><path d="M705.2 14.4l4.4 4-4.4 4"/><path d="M709.4 18.4h-7.3a5.3 5.3 0 0 0-5.3 5.3"/></g>
</svg>

<!-- ===== LEFT TOOLBAR ===== -->
<div class="a" style="left:9px;top:50px;width:34px;height:34px;border-radius:7px;background:#efefef"></div>
<div class="sep" style="left:8px;top:358px;width:36px;height:1px"></div>
<div class="sep" style="left:8px;top:447px;width:36px;height:1px"></div>
<div class="sep" style="left:8px;top:612px;width:36px;height:1px"></div>
<svg width="56" height="729" viewBox="0 0 56 729" shape-rendering="geometricPrecision">
<g class="ic">
 <!-- cursor -->
 <path d="M19.6 59.8v13.6l3.6-3 2.5 5.6 2.6-1.2-2.5-5.4 4.6-0.3z"/>
 <!-- trend line -->
 <circle cx="34.4" cy="96.3" r="2.1"/><circle cx="17.2" cy="113.3" r="2.1"/><path d="M18.8 111.7L32.8 97.9"/>
 <!-- fib lines -->
 <path d="M15 133.2h21.6M15 139.3h18.8M15 145.3h21.6M17.8 151.2h18.8"/><circle cx="36" cy="139.3" r="2.1" fill="#fff"/><circle cx="15.4" cy="151.2" r="2.1" fill="#fff"/>
 <!-- pattern -->
 <path d="M20.2 172.4L17.2 189.4 24.8 179.3 32.4 173.4 35.5 186.2 24.8 179.3 20.2 172.4"/>
 <circle cx="20.2" cy="172.3" r="1.9" fill="#fff"/><circle cx="32.5" cy="173.4" r="1.9" fill="#fff"/><circle cx="24.8" cy="179.3" r="1.9" fill="#fff"/><circle cx="17.2" cy="189.5" r="1.9" fill="#fff"/><circle cx="35.6" cy="186.2" r="1.9" fill="#fff"/>
 <!-- prediction -->
 <path d="M18.6 211.5h17M18.6 221.8h14M18.6 227.5h17"/><path d="M19.4 219.4L35 213.8" stroke-dasharray="1.2 2.2"/>
 <circle cx="16.5" cy="211.5" r="1.9" fill="#fff"/><circle cx="16.5" cy="221.8" r="1.9" fill="#fff"/><circle cx="34.5" cy="221.8" r="1.9" fill="#fff"/><circle cx="16.5" cy="227.5" r="1.9" fill="#fff"/>
 <!-- brush -->
 <path d="M14.6 265.6c3-5.6 7-10.2 11.6-11.2 2.2 1.2 3.4 3.2 3 5.6-1.600 3.400-5.400 5.200-14.600 5.600z"/><path d="M30.300 251.600c.4 2.800 1.800 3.600 3.600 2.600 1.800-1.200 3.600-2.800 5.400-4.800"/>
 <!-- text -->
 <path d="M18.800 287.300h15.200M26.400 287.300v15.800M23.800 303.100h5.200"/>
 <!-- smile -->
 <circle cx="25.900" cy="332.800" r="10.800"/><path d="M22.200 335.600a4.200 4.200 0 0 0 7.400 0"/>
 <!-- ruler -->
 <path d="M14.400 390.600l18.500-18.500 5 5-18.500 18.500z"/><path d="M18.600 386.400l1.800 1.800M22.300 382.700l1.800 1.800M26 379l1.800 1.800M29.700 375.300l1.800 1.800" style="stroke-width:1"/>
 <!-- zoom -->
 <circle cx="24.600" cy="420.600" r="8.200"/><path d="M24.600 417v7.200M21 420.600h7.200M30.600 426.400l3.600 3.600"/>
 <!-- magnet -->
 <path d="M18.200 481.400v-10.400a7.900 7.900 0 0 1 15.800 0v10.400h-5.200v-10.400a2.700 2.700 0 0 0-5.400 0v10.400z"/><path d="M18.200 477.400h5.200M28.800 477.400h5.200"/>
 <!-- pencil lock -->
 <path d="M14.900 515.600l1.300-5 10.800-8.800 3.400 4-10.800 8.800z"/><path d="M24.700 503.700l3.400 4"/>
 <rect x="27.600" y="514.800" width="7.800" height="6.600" rx="1.300"/><path d="M29.600 514.800v-1.600a2 2 0 0 1 3.800-0.800"/>
 <!-- lock -->
 <rect x="18.200" y="547.600" width="15.600" height="10.800" rx="2"/><path d="M21.200 547.600v-2.600a4.400 4.400 0 0 1 8.600-1.400"/><path d="M26 551.800v2.200" style="stroke-width:1.800"/>
 <!-- eye -->
 <path d="M15.800 582.800c2.400-4.200 5.800-6.400 9.400-6.400s7 2.200 9.400 6.400c-2.400 4.200-5.800 6.400-9.400 6.400s-7-2.200-9.400-6.400z"/><circle cx="25.200" cy="582.800" r="3.200"/>
 <path d="M27 597.400c.8-1.800 2-3 3.400-3.200.8.400 1 1.200.8 2-.8 1-2 1.400-4.200 1.200zM32 593.400c.6.800 1.200.8 2.200-.4" style="stroke-width:1"/>
 <!-- trash -->
 <path d="M17.600 632.600h17M22.800 632.400v-2a1.600 1.600 0 0 1 1.600-1.600h3.400a1.600 1.600 0 0 1 1.600 1.600v2M19.200 632.800l1.700 13a1.800 1.800 0 0 0 1.800 1.600h6.800a1.800 1.800 0 0 0 1.800-1.600l1.700-13"/>
</g>
<circle cx="22.400" cy="330.400" r="1" fill="#131722"/><circle cx="29.400" cy="330.400" r="1" fill="#131722"/>
</svg>

<!-- ===== RIGHT TOOLBAR ===== -->
<div class="sep" style="left:1249px;top:630px;width:33px;height:1px"></div>
<div class="a" style="left:1249.200px;top:584.900px;width:33.600px;height:33.600px;border-radius:50%;background:#2a2a2e"></div>
<svg width="1288" height="729" viewBox="0 0 1288 729" shape-rendering="geometricPrecision">
<g class="ic">
 <!-- watchlist -->
 <path d="M1256.600 55.300h19.600v21.400l-9.800-4-9.800 4z"/><path d="M1260.800 61h11.600M1260.800 64.900h11.600M1260.800 68.800h11.600"/>
 <!-- alarm -->
 <circle cx="1266" cy="111.800" r="10.200"/><path d="M1266.800 106.600v6.300h-5.300"/><path d="M1254.400 103.200l5-4.300M1272.600 98.900l5.400 4.300"/>
 <!-- layers -->
 <path d="M1254.800 154.600l11.200-6.200 11.200 6.200-11.200 6.400z"/><path d="M1254.800 160.600l11.200 6.200 11.200-6.200"/>
 <!-- chat -->
 <path d="M1254.400 194.200h17.400a2 2 0 0 1 2 2v10.600a2 2 0 0 1-2 2h-12.600l-4.800 4z"/><path d="M1273.800 199.200h1.800a2 2 0 0 1 2 2v15l-4.400-3.800h-9.600a2 2 0 0 1-2-2v-1.400"/>
 <!-- target -->
 <circle cx="1265.900" cy="509.800" r="13.800"/><circle cx="1265.900" cy="509.800" r="7.500"/><path d="M1265.900 509.800l10.400-9.600"/>
 <!-- calendar -->
 <rect x="1254.400" y="546.300" width="23" height="21.600" rx="3.200"/><path d="M1254.400 552.400h23"/>
 <rect x="1259.200" y="544.200" width="2.600" height="5" rx="1.100" fill="#fff"/><rect x="1270.800" y="544.200" width="2.600" height="5" rx="1.100" fill="#fff"/>
 <!-- broadcast -->
 <circle cx="1256.900" cy="667.100" r="1.700"/>
 <path d="M1255.200 659.300a7.800 7.800 0 0 1 9.400 9.200"/><path d="M1255.200 653.300a13.800 13.800 0 0 1 15.600 15.200"/><path d="M1255.200 647.300a19.800 19.800 0 0 1 21.600 21.200"/>
 <!-- help -->
 <path d="M1278.600 700.800a13.400 13.400 0 0 1-20.300 15.600M1252.800 707.700a13.400 13.400 0 0 1 18.900-14.400"/>
 <path d="M1277.400 691l1.300 2.800 2.800 1.300-2.800 1.300-1.300 2.800-1.300-2.800-2.800-1.300 2.800-1.300z" style="stroke-width:1"/>
 <path d="M1254.300 709.600l1 2.300 2.300 1-2.300 1-1 2.300-1-2.300-2.300-1 2.300-1z" style="stroke-width:1"/>
 <path d="M1262.700 702.400a3.400 3.400 0 1 1 5 3c-1.100.7-1.600 1.300-1.600 2.700"/><circle cx="1266" cy="711.300" r="1.200"/>
</g>
<circle cx="1265.900" cy="509.800" r="2.200" fill="#131722"/>
<g fill="#fff">
 <rect x="1256.500" y="592.800" width="4.200" height="4.200" rx="0.600"/><rect x="1263.800" y="592.800" width="4.200" height="4.200" rx="0.600"/><rect x="1271.100" y="592.800" width="4.200" height="4.200" rx="0.600"/>
 <rect x="1256.500" y="599.700" width="4.200" height="4.200" rx="0.600"/><rect x="1263.800" y="599.700" width="4.200" height="4.200" rx="0.600"/><rect x="1271.100" y="599.700" width="4.200" height="4.200" rx="0.600"/>
 <rect x="1256.500" y="606.700" width="4.200" height="4.200" rx="0.600"/><rect x="1263.800" y="606.700" width="4.200" height="4.200" rx="0.600"/><rect x="1271.100" y="606.700" width="4.200" height="4.200" rx="0.600"/>
</g>
<circle cx="1275.700" cy="647.900" r="8" fill="#e5364a"/>
<circle cx="1292" cy="734" r="11" fill="#6a0f1c"/><circle cx="-5" cy="736" r="10.500" fill="#6a0f1c"/>
</svg>
<div class="t" style="left:1267.700px;top:642.500px;width:16px;text-align:center;color:#fff;font-size:11px;font-weight:bold">2</div>

<!-- ===== CHART UI ===== -->
<div class="a" style="left:61px;top:73px;width:85px;height:20px;background:rgba(255,255,255,0.700)"></div>
<div class="a" style="left:61px;top:97px;width:85px;height:20px;background:rgba(255,255,255,0.700)"></div>
<div class="a" style="left:61px;top:121px;width:116px;height:21px;background:rgba(255,255,255,0.700)"></div>
<div class="a" style="left:64.200px;top:49px;width:39.600px;height:17.600px;background:linear-gradient(90deg,#e3f0ed 49%,#fcdae6 56%);border-radius:9px"></div>
<div class="a" style="left:70.900px;top:53.900px;width:8.200px;height:8.200px;border-radius:50%;background:#1f9e86"></div>
<svg width="120" height="80" viewBox="0 0 120 80" shape-rendering="geometricPrecision"><g fill="none" stroke="#a3306c" stroke-width="1.300" stroke-linecap="round"><path d="M89.200 57C90.400 55.200 91.900 55.200 93.200 56.200S96 57.200 97.200 55.200"/><path d="M89.200 60.700C90.400 58.900 91.900 58.900 93.200 59.900S96 60.900 97.200 58.900"/></g></svg>
<div class="t" style="transform:scaleX(1.0433);transform-origin:0 50%;left:112.2px;top:52.300px;font-size:12px;line-height:14px">O0.79564</div>
<div class="t" style="transform:scaleX(1.0433);transform-origin:0 50%;left:173.7px;top:52.300px;font-size:12px;line-height:14px">H0.79671</div>
<div class="t" style="transform:scaleX(1.0487);transform-origin:0 50%;left:235.2px;top:52.300px;font-size:12px;line-height:14px">L0.79308</div>
<div class="t" style="transform:scaleX(1.0433);transform-origin:0 50%;left:294.2px;top:52.300px;font-size:12px;line-height:14px">C0.79604</div>
<div class="t" style="transform:scaleX(1.0220);transform-origin:0 50%;left:355.2px;top:52.300px;font-size:12px;line-height:14px">+0.00064</div>
<div class="t" style="transform:scaleX(0.9994);transform-origin:0 50%;left:411.2px;top:52.300px;font-size:12px;line-height:14px">(+0.08%)</div>
<div class="t" style="transform:scaleX(0.8841);transform-origin:0 50%;left:65.4px;top:75.6px;font-size:12px;line-height:14px">EMA</div>
<div class="t" style="transform:scaleX(1.0417);transform-origin:0 50%;left:97px;top:75.6px;font-size:12px;line-height:14px;color:#4574c4">0.82376</div>
<div class="t" style="transform:scaleX(0.8841);transform-origin:0 50%;left:65.4px;top:99.6px;font-size:12px;line-height:14px">EMA</div>
<div class="t" style="transform:scaleX(1.0417);transform-origin:0 50%;left:97px;top:99.6px;font-size:12px;line-height:14px;color:#d2535f">0.79867</div>
<div class="t" style="transform:scaleX(1.0624);transform-origin:0 50%;left:65.4px;top:123.6px;font-size:12px;line-height:14px">Vol · Ticks</div>
<div class="t" style="transform:scaleX(0.9789);transform-origin:0 50%;left:133px;top:123.6px;font-size:12px;line-height:14px;color:#4aa89a">38.77 K</div>
<div class="a" style="left:64.500px;top:145.500px;width:28px;height:20px;background:rgba(255,255,255,0.78);border:1px solid #e0e3eb;border-radius:3px"></div>
<svg width="100" height="200" viewBox="0 0 100 200" shape-rendering="geometricPrecision"><path d="M74.600 157.800l4-3.800 4 3.800" fill="none" stroke="#131722" stroke-width="1.300"/></svg>
<div class="t" style="transform:scaleX(0.9680);transform-origin:0 50%;left:1181.900px;top:54px;font-size:12px;line-height:14px">0.91000</div>
<div class="t" style="transform:scaleX(0.9680);transform-origin:0 50%;left:1181.900px;top:94px;font-size:12px;line-height:14px">0.90000</div>
<div class="t" style="transform:scaleX(0.9680);transform-origin:0 50%;left:1181.900px;top:134px;font-size:12px;line-height:14px">0.89000</div>
<div class="t" style="transform:scaleX(0.9680);transform-origin:0 50%;left:1181.900px;top:175px;font-size:12px;line-height:14px">0.88000</div>
<div class="t" style="transform:scaleX(0.9680);transform-origin:0 50%;left:1181.900px;top:215px;font-size:12px;line-height:14px">0.87000</div>
<div class="t" style="transform:scaleX(0.9680);transform-origin:0 50%;left:1181.900px;top:255px;font-size:12px;line-height:14px">0.86000</div>
<div class="t" style="transform:scaleX(0.9680);transform-origin:0 50%;left:1181.900px;top:296px;font-size:12px;line-height:14px">0.85000</div>
<div class="t" style="transform:scaleX(0.9680);transform-origin:0 50%;left:1181.900px;top:336px;font-size:12px;line-height:14px">0.84000</div>
<div class="t" style="transform:scaleX(0.9680);transform-origin:0 50%;left:1181.900px;top:376px;font-size:12px;line-height:14px">0.83000</div>
<div class="t" style="transform:scaleX(0.9680);transform-origin:0 50%;left:1181.900px;top:417px;font-size:12px;line-height:14px">0.82000</div>
<div class="t" style="transform:scaleX(0.9680);transform-origin:0 50%;left:1181.900px;top:578px;font-size:12px;line-height:14px">0.78000</div>
<div class="a" style="left:1174.200px;top:400.2px;width:55.6px;height:16.2px;background:#2b61e6;border-radius:1.5px"></div>
<div class="t" style="transform:scaleX(0.9610);transform-origin:0 50%;left:1181.900px;top:401.6px;font-size:12px;line-height:14px;color:#fff;font-weight:bold">0.82376</div>
<div class="a" style="left:1174.200px;top:456.4px;width:55.6px;height:16.3px;background:#2b61e6;border-radius:1.5px"></div>
<div class="t" style="transform:scaleX(0.9610);transform-origin:0 50%;left:1181.900px;top:457.8px;font-size:12px;line-height:14px;color:#fff;font-weight:bold">0.81000</div>
<div class="a" style="left:1174.200px;top:478.1px;width:55.6px;height:17.3px;background:#2b61e6;border-radius:1.5px"></div>
<div class="t" style="transform:scaleX(0.9610);transform-origin:0 50%;left:1181.900px;top:480.1px;font-size:12px;line-height:14px;color:#fff;font-weight:bold">0.80000</div>
<div class="a" style="left:1174.200px;top:495.4px;width:55.6px;height:16.4px;background:#e8374b;border-radius:1.5px"></div>
<div class="t" style="transform:scaleX(0.9610);transform-origin:0 50%;left:1181.900px;top:496.9px;font-size:12px;line-height:14px;color:#fff;font-weight:bold">0.79867</div>
<div class="a" style="left:1174.200px;top:543.4px;width:55.6px;height:16.4px;background:#2b61e6;border-radius:1.5px"></div>
<div class="t" style="transform:scaleX(0.9610);transform-origin:0 50%;left:1181.900px;top:544.9px;font-size:12px;line-height:14px;color:#fff;font-weight:bold">0.79000</div>
<div class="a" style="left:1174.200px;top:512.200px;width:59.600px;height:30.600px;background:#0f9a7f;border-radius:1.5px"></div>
<div class="t" style="transform:scaleX(0.9610);transform-origin:0 50%;left:1181.900px;top:514.200px;font-size:12px;line-height:14px;color:#fff;font-weight:bold">0.79604</div>
<div class="t" style="transform:scaleX(0.9889);transform-origin:0 50%;left:1181.800px;top:527.900px;font-size:12px;line-height:14px;color:#cdf3ea">07:19:33</div>
<div class="a" style="left:1122.100px;top:512.200px;width:50.700px;height:16.600px;background:#0f9a7f;border-radius:1.5px"></div>
<div class="t" style="transform:scaleX(0.8440);transform-origin:0 50%;left:1126.800px;top:513.800px;font-size:12px;line-height:14px;color:#d6f7f0;font-weight:bold">USDCHF</div>
<div class="a" style="left:1174.200px;top:604.400px;width:51.700px;height:15.400px;background:#27a599;border-radius:1.5px"></div>
<div class="t" style="transform:scaleX(0.8922);transform-origin:0 50%;left:1181.900px;top:605.300px;font-size:12px;line-height:14px;color:#fff;font-weight:bold">38.77 K</div>
<div class="t" style="transform:scaleX(0.9917);transform-origin:0 50%;left:157.8px;top:626.600px;font-size:12px;line-height:14px;font-weight:bold">Apr</div>
<div class="t" style="transform:scaleX(1.0067);transform-origin:0 50%;left:281.2px;top:626.600px;font-size:12px;line-height:14px;font-weight:bold">May</div>
<div class="t" style="transform:scaleX(0.9370);transform-origin:0 50%;left:409.0px;top:626.600px;font-size:12px;line-height:14px;font-weight:bold">Jun</div>
<div class="t" style="transform:scaleX(0.9514);transform-origin:0 50%;left:531.8px;top:626.600px;font-size:12px;line-height:14px;font-weight:bold">Jul</div>
<div class="t" style="transform:scaleX(0.9645);transform-origin:0 50%;left:658.8px;top:626.600px;font-size:12px;line-height:14px;font-weight:bold">Aug</div>
<div class="t" style="transform:scaleX(0.9766);transform-origin:0 50%;left:779.2px;top:626.600px;font-size:12px;line-height:14px;font-weight:bold">Sep</div>
<div class="t" style="transform:scaleX(1.0242);transform-origin:0 50%;left:904.8px;top:626.600px;font-size:12px;line-height:14px;font-weight:bold">Oct</div>
<div class="t" style="transform:scaleX(0.9086);transform-origin:0 50%;left:1036.9px;top:626.600px;font-size:12px;line-height:14px;font-weight:bold">Nov</div>
<div class="t" style="transform:scaleX(0.9766);transform-origin:0 50%;left:1149.8px;top:626.600px;font-size:12px;line-height:14px;font-weight:bold">Dec</div>
<div class="sep" style="left:56px;top:648px;width:1183px;height:1px;background:#e4e6ec"></div>
<svg width="300" height="729" viewBox="0 0 300 729" shape-rendering="geometricPrecision"><g fill="#131722">
<path d="M68 591.300h12.800v14h-6.500v-8.400h-6.300z"/><circle cx="84.700" cy="594.200" r="2.800"/><path d="M90.200 591.300h7.400l-5.800 14h-7.200z"/></g></svg>
<div class="t" style="transform:scaleX(1.0412);transform-origin:0 50%;left:105.300px;top:587.500px;font-size:20px;line-height:22px;font-weight:bold;letter-spacing:-0.200px">TradingView</div>
<svg width="1288" height="729" viewBox="0 0 1288 729" shape-rendering="geometricPrecision"><g class="ic"><path d="M1202.600 628.300h7.400l3.700 6.300-3.700 6.300h-7.400l-3.700-6.300z"/><circle cx="1206.300" cy="634.600" r="2.300"/></g></svg>
<svg width="1288" height="729" viewBox="0 0 1288 729" shape-rendering="geometricPrecision">
<defs><clipPath id="fc"><circle cx="1029.500" cy="606.800" r="8.300"/></clipPath>
<clipPath id="fc2"><circle cx="1035.300" cy="606.800" r="8.300"/></clipPath>
<clipPath id="fc3"><circle cx="1041.300" cy="606.800" r="8.300"/></clipPath></defs>
<circle cx="1024.700" cy="606.800" r="10" fill="#fff" stroke="#6a3fa6" stroke-width="1"/>
<g><circle cx="1041.300" cy="606.800" r="10" fill="#fff" stroke="#e0505e" stroke-width="1"/>
<g clip-path="url(#fc3)"><rect x="1031" y="598" width="21" height="18" fill="#fbe3e5"/><g fill="#e58890"><rect x="1031" y="598.500" width="21" height="2.400"/><rect x="1031" y="603.300" width="21" height="2.400"/><rect x="1031" y="608.100" width="21" height="2.400"/><rect x="1031" y="612.900" width="21" height="2.400"/></g></g></g>
<g><circle cx="1035.300" cy="606.800" r="10" fill="#fff" stroke="#e0505e" stroke-width="1"/>
<g clip-path="url(#fc2)"><rect x="1025" y="598" width="21" height="18" fill="#fbe3e5"/><g fill="#e58890"><rect x="1025" y="598.500" width="21" height="2.400"/><rect x="1025" y="603.300" width="21" height="2.400"/><rect x="1025" y="608.100" width="21" height="2.400"/><rect x="1025" y="612.900" width="21" height="2.400"/></g></g></g>
<circle cx="1029.500" cy="606.800" r="10" fill="#fff" stroke="#e0505e" stroke-width="1"/>
<g clip-path="url(#fc)"><rect x="1020" y="598" width="20" height="18" fill="#fff"/>
<g fill="#e0505e"><rect x="1020" y="598.500" width="20" height="2.400"/><rect x="1020" y="603.300" width="20" height="2.400"/><rect x="1020" y="608.100" width="20" height="2.400"/><rect x="1020" y="612.900" width="20" height="2.400"/></g>
<rect x="1020" y="598" width="11" height="10.100" fill="#3d7be0"/>
<g fill="#cfe0fa"><circle cx="1024" cy="601" r="0.600"/><circle cx="1026.600" cy="601" r="0.600"/><circle cx="1029.200" cy="601" r="0.600"/><circle cx="1024" cy="603.600" r="0.600"/><circle cx="1026.600" cy="603.600" r="0.600"/><circle cx="1029.200" cy="603.600" r="0.600"/><circle cx="1024" cy="606.200" r="0.600"/><circle cx="1026.600" cy="606.200" r="0.600"/><circle cx="1029.200" cy="606.200" r="0.600"/></g>
</g>
</svg>
<!-- ===== BOTTOM ===== -->
<div class="t" style="transform:scaleX(0.8265);transform-origin:0 50%;left:70.5px;top:661px;font-size:14px;line-height:15px">1D</div>
<div class="t" style="transform:scaleX(0.8600);transform-origin:0 50%;left:98.5px;top:661px;font-size:14px;line-height:15px">5D</div>
<div class="t" style="transform:scaleX(0.8790);transform-origin:0 50%;left:126.4px;top:661px;font-size:14px;line-height:15px">1M</div>
<div class="t" style="transform:scaleX(0.8585);transform-origin:0 50%;left:155.8px;top:661px;font-size:14px;line-height:15px">3M</div>
<div class="t" style="transform:scaleX(0.8893);transform-origin:0 50%;left:184.6px;top:661px;font-size:14px;line-height:15px">6M</div>
<div class="t" style="transform:scaleX(0.8679);transform-origin:0 50%;left:213.9px;top:661px;font-size:14px;line-height:15px">YTD</div>
<div class="t" style="transform:scaleX(0.8175);transform-origin:0 50%;left:250.8px;top:661px;font-size:14px;line-height:15px">1Y</div>
<div class="t" style="transform:scaleX(0.8175);transform-origin:0 50%;left:278.2px;top:661px;font-size:14px;line-height:15px">5Y</div>
<div class="t" style="transform:scaleX(1.0088);transform-origin:0 50%;left:305.3px;top:661px;font-size:14px;line-height:15px">All</div>
<div class="sep" style="left:332.500px;top:657px;width:1px;height:22px"></div>
<div class="t" style="transform:scaleX(0.9464);transform-origin:0 50%;left:1146px;top:661px;font-size:14px;line-height:15px">13:40:27 UTC</div>
<div class="t" style="transform:scaleX(0.9783);transform-origin:0 50%;left:72.800px;top:702px;font-size:14px;line-height:16px">Pine Editor</div>
<div class="t" style="transform:scaleX(0.9578);transform-origin:0 50%;left:173.400px;top:702px;font-size:14px;line-height:16px">Trading Panel</div>
<svg width="1288" height="729" viewBox="0 0 1288 729" shape-rendering="geometricPrecision"><g class="ic">
<path d="M346.800 666.200v-3.800a2.300 2.300 0 0 1 2.300-2.300h13a2.300 2.300 0 0 1 2.300 2.300v10.600a2.300 2.300 0 0 1-2.300 2.300h-6.100"/><path d="M346.800 664.400h17.600M351.500 658.200v3.400M359.700 658.200v3.400"/><path d="M346.200 671.400h7.200M350.800 668.600l2.800 2.800-2.800 2.800"/>
<path d="M1176.200 712.600l8.400-7.400 8.400 7.400" style="stroke-width:1.400"/>
<path d="M1212.400 706.800v-1.600a2.600 2.600 0 0 1 2.600-2.600h10a2.600 2.600 0 0 1 2.600 2.600v1.600M1227.600 713.200v1.600a2.600 2.600 0 0 1-2.600 2.600h-10a2.600 2.600 0 0 1-2.600-2.600v-1.600" style="stroke-width:1.400"/>
</g></svg>
</body></html>
